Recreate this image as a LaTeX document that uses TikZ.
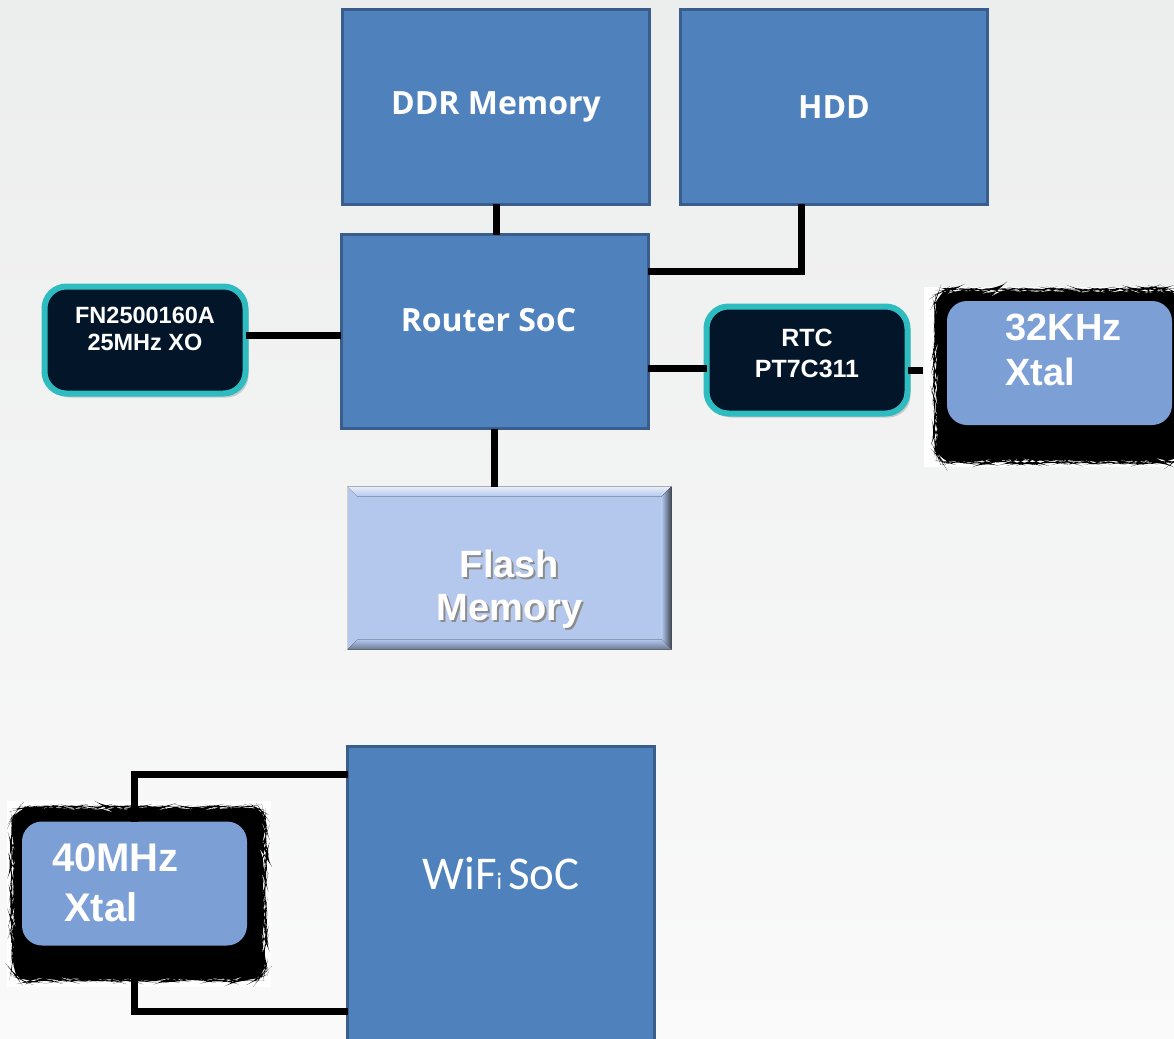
\documentclass[tikz,border=0pt]{standalone}
\usepackage{fontspec}
\setmainfont{Liberation Sans}
\newfontfamily\opensans{Open Sans}
\newfontfamily\carlito{Carlito}
\usepackage{xcolor}
\usetikzlibrary{positioning,shadows,backgrounds,decorations.pathmorphing}

\definecolor{pagetop}{HTML}{ECEDED}
\definecolor{pagebottom}{HTML}{FAFAFA}
\definecolor{socblue}{HTML}{4F81BD}
\definecolor{socedge}{HTML}{3A5E8C}
\definecolor{flashblue}{HTML}{B4C8EE}
\definecolor{xtalblue}{HTML}{7C9FD5}
\definecolor{oscnavy}{HTML}{031528}
\definecolor{oscteal}{HTML}{2FBCC0}

% raise text inside a box without moving the box
\newcommand{\liftby}[2]{\raisebox{#1}[\height][\depth]{#2}}
\newcommand{\embossed}[1]{\rlap{\hspace{2pt}\raisebox{-2.5pt}{\textcolor{black!45}{#1}}}#1}

\tikzstyle{block} = [draw=socedge, line width=3pt, fill=socblue, text=white, inner sep=0, outer sep=0, minimum width=307pt, minimum height=194pt, font=\opensans\bfseries\fontsize{32}{38}\selectfont]
\tikzstyle{osc} = [draw=oscteal, line width=6pt, fill=oscnavy, rounded corners=22pt, text=white, inner sep=0, outer sep=0, minimum width=201pt, minimum height=107pt, drop shadow={shadow xshift=3pt, shadow yshift=-4pt, opacity=0.35}]
\tikzstyle{xtal} = [fill=xtalblue, rounded corners=20pt, text=white, inner sep=0, outer sep=0, minimum width=225pt, minimum height=124pt]
\tikzstyle{flashbox} = [draw=black!18, line width=1.5pt, fill=flashblue, text=white, inner sep=0, outer sep=0, minimum width=324pt, minimum height=163pt, font=\bfseries\fontsize{38}{43}\selectfont]
\tikzstyle{rough} = [fill=black, rounded corners=14pt, decorate, decoration={random steps, segment length=4pt, amplitude=1pt}]
\tikzstyle{wire} = [line width=7pt]

\begin{document}
\begin{tikzpicture}[x=1pt, y=-1pt]
  \useasboundingbox (0,0) rectangle (1174,1038);
  \clip (0,0) rectangle (1174,1038);
  \begin{scope}[on background layer]
    \fill [top color=pagetop, bottom color=pagebottom] (0,0) rectangle (1174,1038);
  \end{scope}

  % router board
  \node [block] (ddr) at (496,107) {DDR Memory};
  \node [block, right=31pt of ddr] (hdd) {HDD};
  \node [block] (router) at (494.5,331.5) {\liftby{11pt}{Router SoC\hspace*{12pt}}};
  \node [osc, font=\bfseries\fontsize{23.5}{27}\selectfont] (xo) at (145,340)
    {\liftby{8pt}{\begin{tabular}{@{}c@{}}FN2500160A\\25MHz XO\end{tabular}}};
  \node [osc, font=\bfseries\fontsize{25}{31}\selectfont] (rtc) at (807,360)
    {\liftby{4.5pt}{\begin{tabular}{@{}c@{}}RTC\\PT7C311\end{tabular}}};
  \node [xtal, font=\bfseries\fontsize{38}{45}\selectfont] (xt32) at (1059.5,363)
    {\liftby{9pt}{\begin{tabular}{@{\hspace{8pt}}l@{}}32KHz\\Xtal\end{tabular}}};
  \node [flashbox] (flash) at (509.5,568)
    {\liftby{-22pt}{\begin{tabular}{@{}c@{}}\embossed{Flash}\\\embossed{Memory}\end{tabular}}};

  % bevel of the flash block
  \fill [top color=white!70!flashblue, bottom color=flashblue] (flash.north west) -- (flash.north east)
    -- ([shift={(-10pt,-10pt)}]flash.north east) -- ([shift={(10pt,-10pt)}]flash.north west) -- cycle;
  \fill [left color=flashblue, right color=black!65!flashblue] (flash.north east) -- (flash.south east)
    -- ([shift={(-10pt,10pt)}]flash.south east) -- ([shift={(-10pt,-10pt)}]flash.north east) -- cycle;
  \fill [top color=flashblue, bottom color=black!40!flashblue] (flash.south west) -- (flash.south east)
    -- ([shift={(-10pt,10pt)}]flash.south east) -- ([shift={(10pt,10pt)}]flash.south west) -- cycle;

  % wifi board
  \node [block, minimum height=297pt, font=\carlito\fontsize{47}{52}\selectfont] (wifi) at (501,895)
    {\liftby{22pt}{WiF{\fontsize{24}{24}\selectfont i}\hspace{6pt}SoC}};
  \node [xtal, font=\bfseries\fontsize{40}{50}\selectfont] (xt40) at (134.5,883.5)
    {\liftby{-3pt}{\begin{tabular}{@{}l@{\hspace{38pt}}}40MHz\\\hspace*{12pt}Xtal\end{tabular}}};

  % rough cut-outs behind the crystals
  \begin{scope}[on background layer]
    \fill [white] (924,287) rectangle (1180,467);
    \fill [white] (7,801) rectangle (271,987);
    \fill [rough] ([shift={(-12pt,11pt)}]xt32.north west) rectangle ([shift={(10pt,-37pt)}]xt32.south east);
    \fill [rough] ([shift={(-10pt,14pt)}]xt40.north west) rectangle ([shift={(18pt,-35pt)}]xt40.south east);
  \end{scope}

  % connections
  \draw [wire] (ddr.south) -- (ddr.south |- router.north);
  \draw [wire] ([xshift=-33pt]hdd.south) |- ([yshift=60pt]router.east);
  \draw [wire] ([yshift=5pt]xo.east) -- ([yshift=5pt]xo.east -| router.west);
  \draw [wire] ([yshift=-8pt]rtc.west -| router.east) -- ([yshift=-8pt]rtc.west);
  \draw [wire] ([yshift=-10pt]rtc.east) -- ([shift={(-24pt,-10pt)}]rtc.east -| xt32.west);
  \draw [wire] (router.south) -- (router.south |- flash.north);
  \draw [wire] ([yshift=-28pt]wifi.north west) -| (xt40.north);
  \draw [wire] ([yshift=-265pt]wifi.north west) -| (xt40.south);
\end{tikzpicture}
\end{document}
